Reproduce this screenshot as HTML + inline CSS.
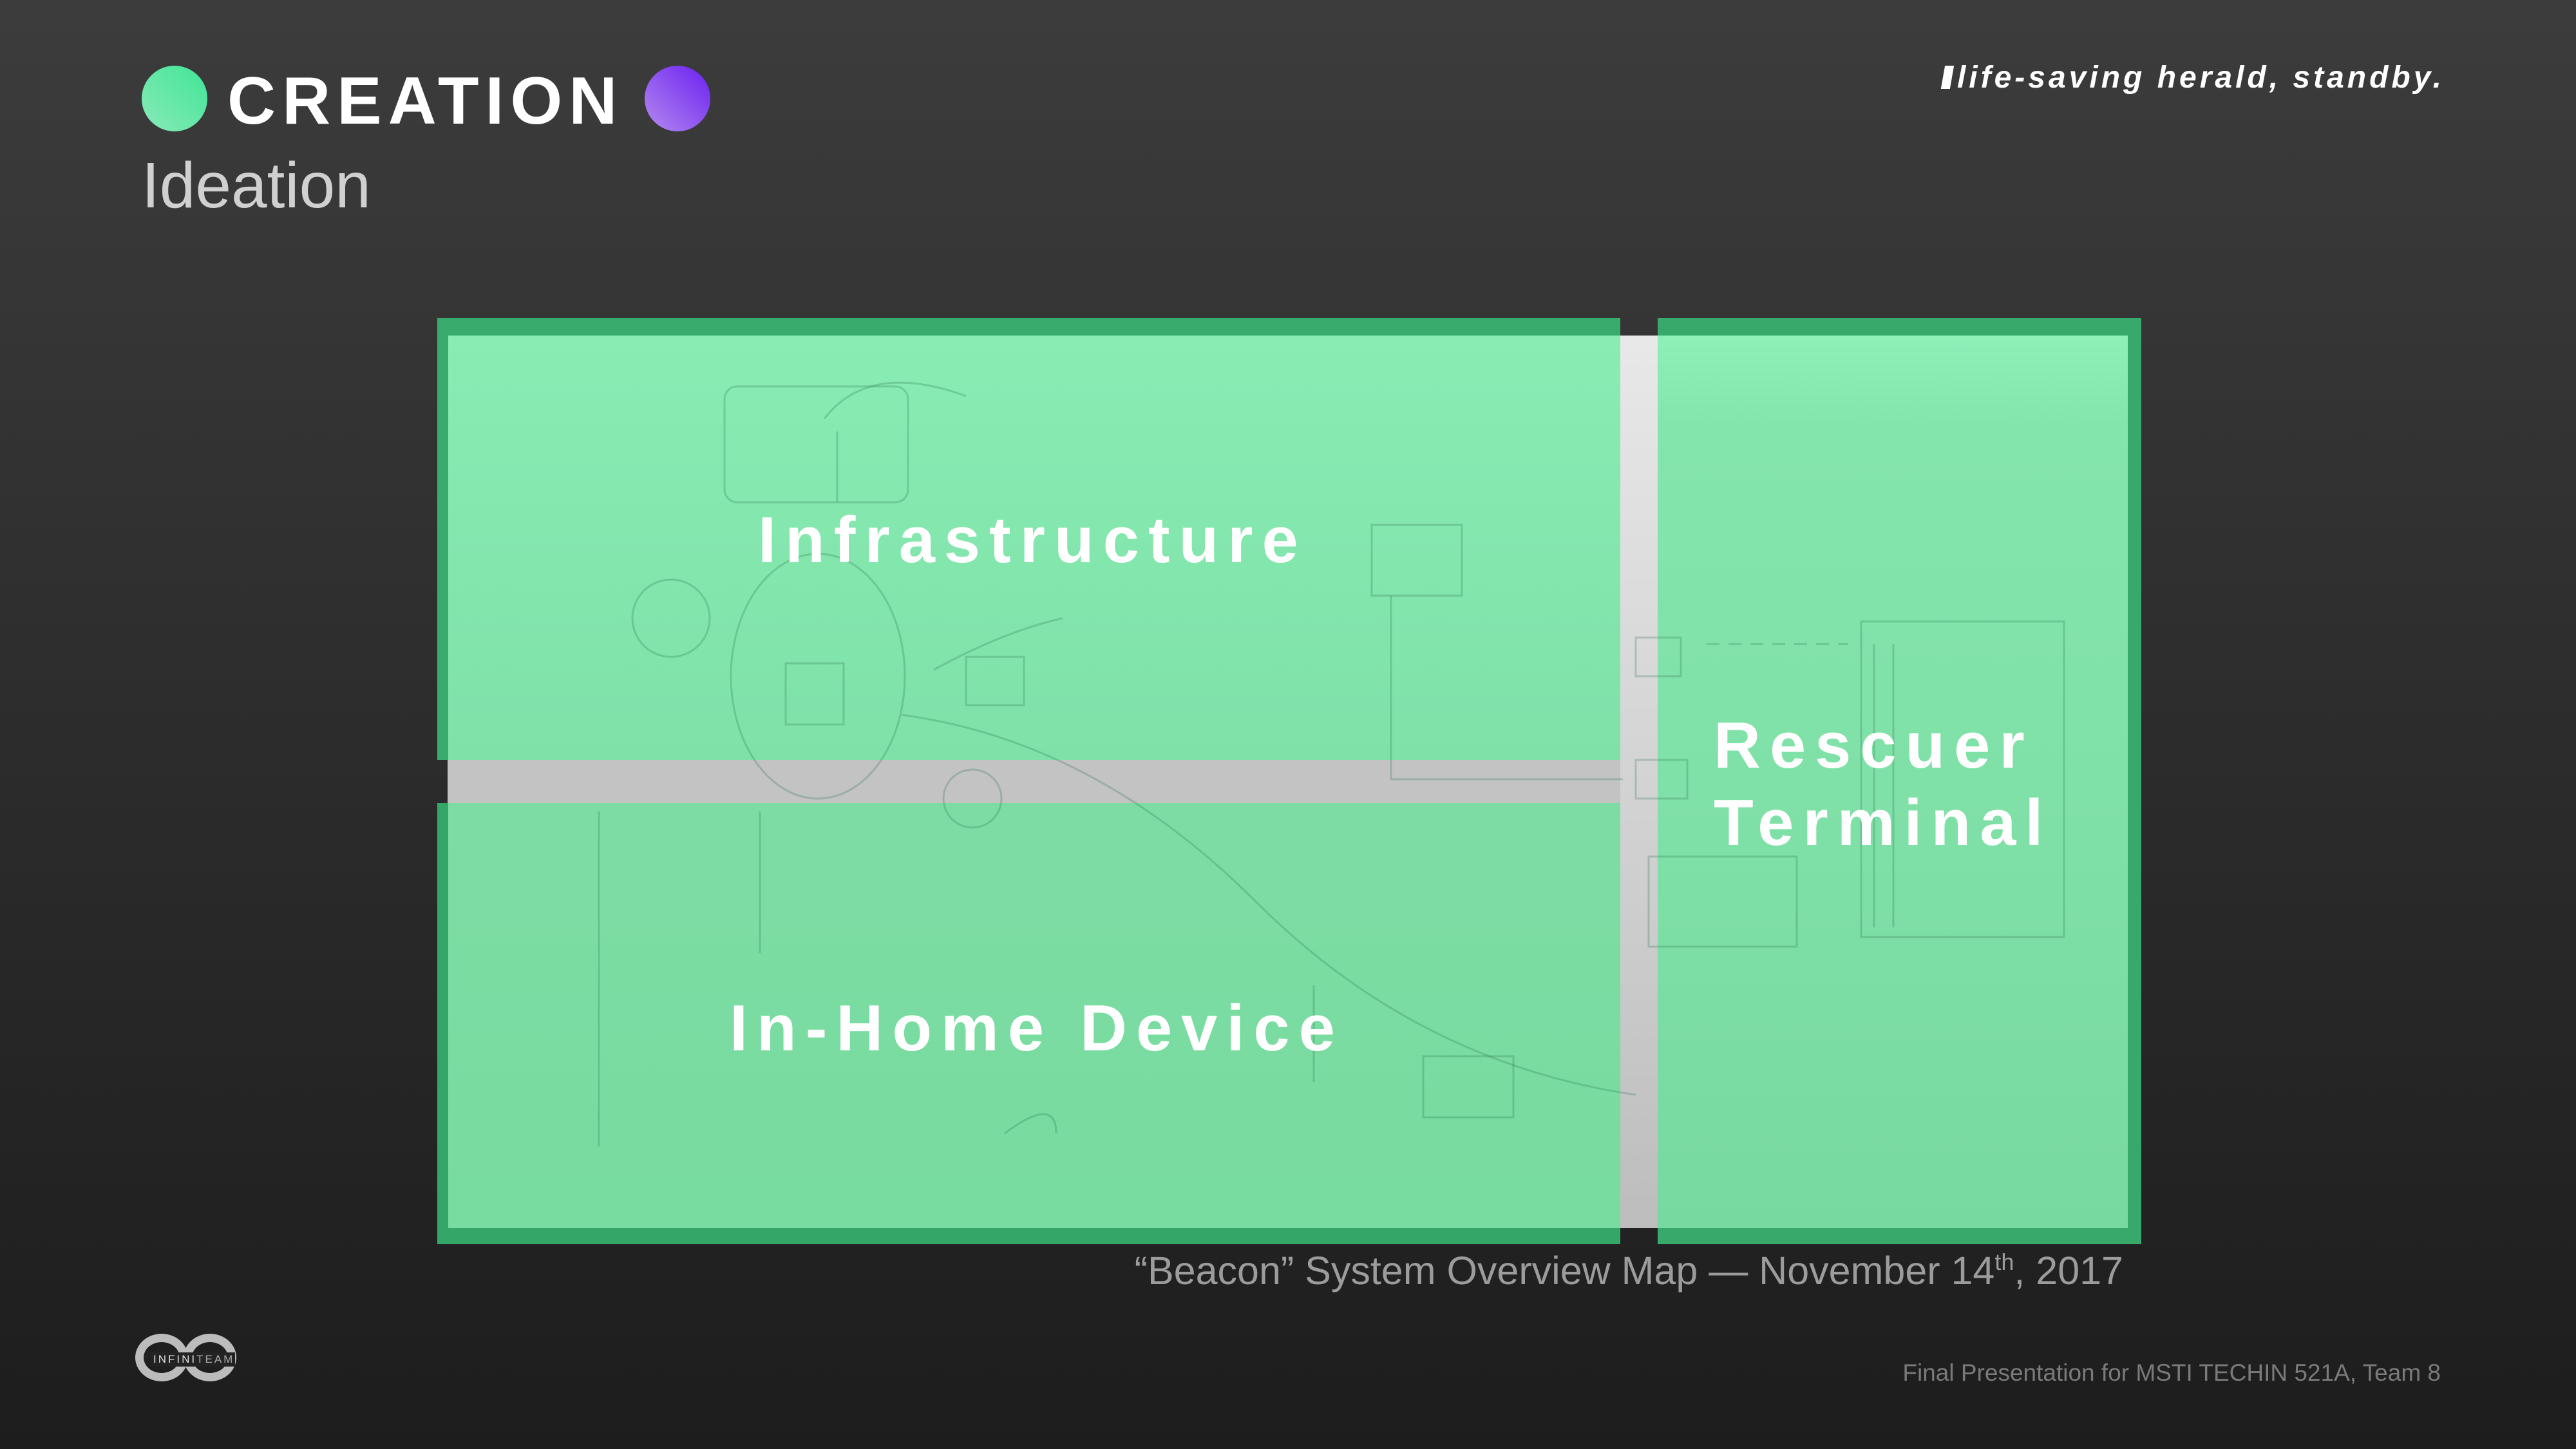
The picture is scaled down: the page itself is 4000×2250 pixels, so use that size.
<!DOCTYPE html>
<html><head><meta charset="utf-8"><style>
*{margin:0;padding:0;box-sizing:border-box}
html,body{width:4000px;height:2250px;overflow:hidden}
body{background:linear-gradient(180deg,#3c3c3c 0%,#2e2e2e 45%,#1d1d1d 100%);font-family:"Liberation Sans",Arial,sans-serif;position:relative}
.a{position:absolute;white-space:nowrap;line-height:1}
.lbl{color:#fff;font-weight:bold;font-size:101px;letter-spacing:14px}
</style></head><body>
<div class="a" style="left:220px;top:102px;width:102px;height:102px;border-radius:50%;background:linear-gradient(225deg,#3fe596,#8aeab8)"></div>
<div class="a" style="left:353px;top:105px;font-size:104px;font-weight:bold;color:#fff;letter-spacing:10px">CREATION</div>
<div class="a" style="left:1001px;top:102px;width:102px;height:102px;border-radius:50%;background:linear-gradient(225deg,#6a1ff0,#b48af0)"></div>
<div class="a" style="left:220px;top:238px;font-size:100px;color:#d0d0d0">Ideation</div>
<div class="a" style="right:204px;top:97px;font-size:48px;font-weight:bold;font-style:italic;color:#fff;letter-spacing:5px"><span style="display:inline-block;width:14px;height:36px;background:#fff;transform:skewX(-10deg);margin-right:8px;vertical-align:-2px"></span>life-saving herald, standby.</div>

<div class="a" style="left:2516px;top:521px;width:58px;height:1386px;background:linear-gradient(180deg,#e8e8e8,#cfcfcf 60%,#bdbdbd)"></div>
<div class="a" style="left:695px;top:1180px;width:1821px;height:67px;background:#c3c3c3"></div>
<div class="a" style="left:679px;top:494px;width:1837px;height:686px;background:#39ab6d"></div>
<div class="a" style="left:696px;top:521px;width:1820px;height:659px;background:linear-gradient(180deg,#88ecb3,#7fe1a8)"></div>
<div class="a" style="left:679px;top:1247px;width:1837px;height:685px;background:#34a667"></div>
<div class="a" style="left:696px;top:1247px;width:1820px;height:660px;background:linear-gradient(180deg,#7ddca4,#78db9f)"></div>
<div class="a" style="left:2574px;top:494px;width:751px;height:1438px;background:#38a96b"></div>
<div class="a" style="left:2574px;top:521px;width:730px;height:1386px;background:linear-gradient(180deg,#8ef0b7 0%,#84e5ac 10%,#80e1a8 50%,#78d9a0 100%)"></div>

<svg class="a" style="left:0;top:0" width="4000" height="2250" viewBox="0 0 4000 2250">
<g fill="none" stroke="rgba(40,110,70,0.25)" stroke-width="3">
<rect x="1125" y="600" width="285" height="180" rx="20"/>
<path d="M1300 670 L1300 780 M1280 650 Q1350 560 1500 615"/>
<circle cx="1042" cy="960" r="60"/>
<ellipse cx="1270" cy="1050" rx="135" ry="190"/>
<rect x="1220" y="1030" width="90" height="95"/>
<rect x="1500" y="1020" width="90" height="75"/>
<path d="M1400 1110 Q1700 1150 1950 1400 T2540 1700"/>
<path d="M1450 1040 Q1560 980 1650 960"/>
<rect x="2130" y="815" width="140" height="110"/>
<path d="M2160 925 L2160 1210 L2520 1210"/>
<rect x="2540" y="990" width="70" height="60"/>
<rect x="2540" y="1180" width="80" height="60"/>
<path d="M2650 1000 L2870 1000" stroke-dasharray="20 14"/>
<rect x="2890" y="965" width="315" height="490"/>
<path d="M2910 1000 L2910 1440 M2940 1000 L2940 1440"/>
<rect x="2560" y="1330" width="230" height="140"/>
<path d="M930 1260 L930 1780 M1180 1260 L1180 1480 M1560 1760 Q1640 1700 1640 1760"/>
<circle cx="1510" cy="1240" r="45"/>
<rect x="2210" y="1640" width="140" height="95"/>
<path d="M2040 1530 L2040 1680"/>
</g>
</svg>

<div class="a lbl" style="left:1177px;top:789px">Infrastructure</div>
<div class="a lbl" style="left:1133px;top:1547px">In-Home Device</div>
<div class="a lbl" style="left:2661px;top:1108px">Rescuer</div>
<div class="a lbl" style="left:2661px;top:1228px">Terminal</div>

<div class="a" style="right:703px;top:1942px;font-size:61px;color:#9c9c9c">“Beacon” System Overview Map — November 14<sup style="font-size:36px;vertical-align:22px">th</sup>, 2017</div>
<div class="a" style="right:210px;top:2113px;font-size:37px;color:#7a7a7a">Final Presentation for MSTI TECHIN 521A, Team 8</div>

<div class="a" style="left:210px;top:2071px;width:82px;height:74px;border:13px solid #bcbcbc;border-radius:50%"></div>
<div class="a" style="left:285px;top:2071px;width:82px;height:74px;border:13px solid #bcbcbc;border-radius:50%"></div>
<div class="a" style="left:235px;top:2100px;width:130px;height:22px;background:#232323"></div>
<div class="a" style="left:238px;top:2102px;font-size:17px;color:#e0e0e0;letter-spacing:3px">INFINI<span style="color:#aaa;font-weight:normal">TEAM</span></div>
</body></html>
